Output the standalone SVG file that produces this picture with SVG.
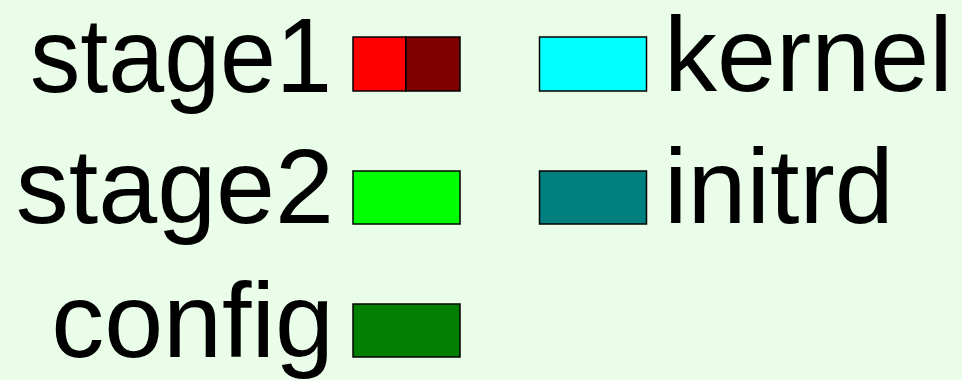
<svg xmlns="http://www.w3.org/2000/svg" width="962" height="380" viewBox="0 0 962 380">
<style>
.t{font-family:"Liberation Sans",Arial,sans-serif;font-size:106px;fill:#000}
.b{stroke:#000;stroke-width:1.5}
</style>
<rect width="962" height="380" fill="#e9fde9"/>
<g id="stage1">
<text class="t" x="30" y="92" textLength="302" lengthAdjust="spacingAndGlyphs">stage1</text>
<rect class="b" x="353" y="37" width="53" height="54" fill="#ff0000"/>
<rect class="b" x="406" y="37" width="54" height="54" fill="#7f0000"/>
</g>
<g id="stage2">
<text class="t" x="334" y="223" text-anchor="end">stage2</text>
<rect class="b" x="353" y="171" width="107" height="53" fill="#00ff00"/>
</g>
<g id="config">
<text class="t" x="334" y="357" text-anchor="end">config</text>
<rect class="b" x="353" y="304" width="107" height="53" fill="#007f00"/>
</g>
<g id="kernel">
<rect class="b" x="539.5" y="37" width="107" height="54" fill="#00ffff"/>
<text class="t" x="664" y="90.5">kernel</text>
</g>
<g id="initrd">
<rect class="b" x="539.5" y="171" width="107" height="53" fill="#007f7f"/>
<text class="t" x="664" y="223">initrd</text>
</g>
<g id="connectors"/>
</svg>
